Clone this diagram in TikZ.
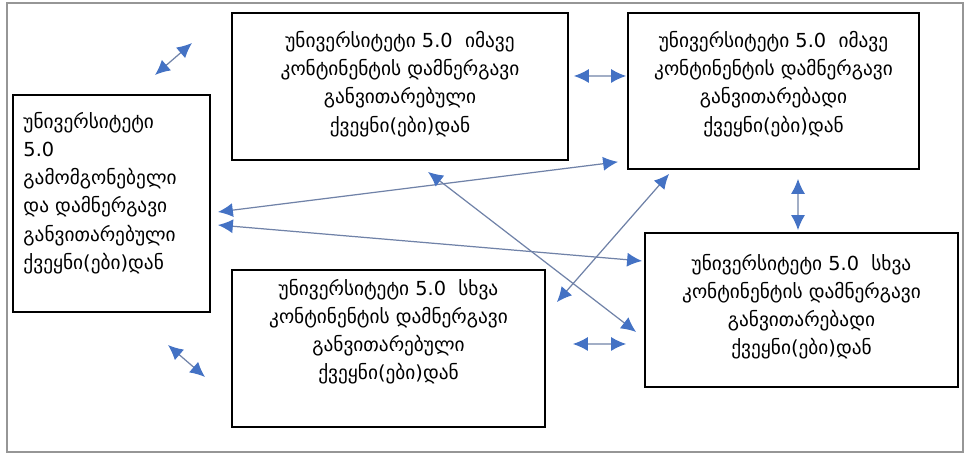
\documentclass[tikz,border=0pt]{standalone}
\usepackage{fontspec}
\newfontfamily\geofont{DejaVu Sans}
\usetikzlibrary{positioning,arrows.meta,calc}
\definecolor{arrowblue}{RGB}{68,114,196}
\definecolor{lineblue}{RGB}{112,130,168}
\definecolor{framegray}{RGB}{150,150,150}

\begin{document}
\begin{tikzpicture}[auto,scale=1,
		box/.style={draw=black,line width=1pt,inner sep=0pt},
		txt/.style={inner sep=0pt,font=\geofont\fontsize{11}{16}\selectfont},
		link/.style={draw=lineblue,line width=0.7pt,<->,>={Latex[length=3mm,width=2.8mm,color=arrowblue]}}]
		\useasboundingbox (0,0) rectangle (19.3,9.1);
		\draw[framegray,line width=0.6pt] (0.14,0.06) rectangle (19.26,9.04);
		% boxes
		\node[box,minimum width=3.94cm,minimum height=4.34cm] (inv) at (2.23,5.03) {};
		\node[box,minimum width=6.72cm,minimum height=2.94cm] (samedev) at (8.0,7.37) {};
		\node[box,minimum width=5.82cm,minimum height=3.12cm] (samedevg) at (15.47,7.28) {};
		\node[box,minimum width=6.26cm,minimum height=3.14cm] (otherdev) at (7.77,2.13) {};
		\node[box,minimum width=6.26cm,minimum height=3.08cm] (otherdevg) at (16.03,2.9) {};
		% texts
		\node[txt,align=left,anchor=north west] (invtxt) at ($(inv.north west)+(0.22,-0.36)$) {უნივერსიტეტი\\5.0\\გამომგონებელი\\და დამნერგავი\\განვითარებული\\ქვეყნი(ები)დან};
		\node[txt,align=center,below=0.38cm of samedev.north] (samedevtxt) {უნივერსიტეტი 5.0\ \ იმავე\\კონტინენტის დამნერგავი\\განვითარებული\\ქვეყნი(ები)დან};
		\node[txt,align=center,below=0.38cm of samedevg.north] (samedevgtxt) {უნივერსიტეტი 5.0\ \ იმავე\\კონტინენტის დამნერგავი\\განვითარებადი\\ქვეყნი(ები)დან};
		\node[txt,align=center,below=0.20cm of otherdev.north] (otherdevtxt) {უნივერსიტეტი 5.0\ \ სხვა\\კონტინენტის დამნერგავი\\განვითარებული\\ქვეყნი(ები)დან};
		\node[txt,align=center,below=0.43cm of otherdevg.north] (otherdevgtxt) {უნივერსიტეტი 5.0\ \ სხვა\\კონტინენტის დამნერგავი\\განვითარებადი\\ქვეყნი(ები)დან};
		% loose arrows
		\coordinate (upa) at (3.10,7.60);
		\coordinate (upb) at (3.84,8.24);
		\coordinate (loa) at (3.36,2.20);
		\coordinate (lob) at (4.10,1.56);
		\draw[link] (upa) -- (upb);
		\draw[link] (loa) -- (lob);
		% arrows between boxes
		\draw[link] ([shift={(1mm,2.1mm)}]samedev.east) -- ([shift={(-0.2mm,3mm)}]samedevg.west);
		\draw[link] ([shift={(4.9mm,-1.8mm)}]samedevg.south) -- ([shift={(-0.7mm,0.4mm)}]otherdevg.north);
		\draw[link] ([shift={(5.4mm,0.9mm)}]otherdev.east) -- ([shift={(-3.6mm,-6.8mm)}]otherdevg.west);
		\draw[link] ([shift={(1.4mm,-1.7mm)}]inv.east) -- ([shift={(-1.8mm,1.6mm)}]samedevg.south west);
		\draw[link] ([shift={(1.4mm,-4.3mm)}]inv.east) -- ([shift={(-0.4mm,9.8mm)}]otherdevg.west);
		\draw[link] ([shift={(5.6mm,-2.2mm)}]samedev.south) -- ([shift={(-1.6mm,-4.4mm)}]otherdevg.west);
		\draw[link] ([shift={(2.2mm,-6.6mm)}]otherdev.north east) -- ([shift={(8.4mm,-0.8mm)}]samedevg.south west);
\end{tikzpicture}
\end{document}
